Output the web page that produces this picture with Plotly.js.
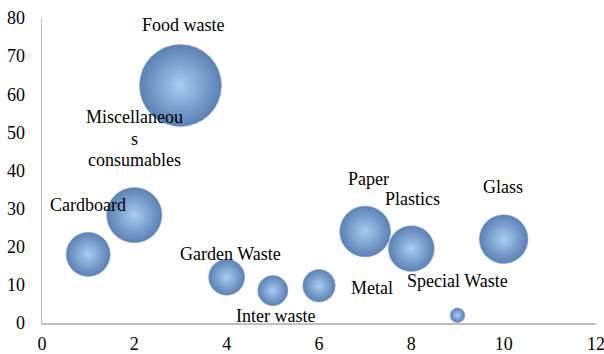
<!DOCTYPE html>
<html>
<head>
<meta charset="utf-8">
<script src="https://cdn.plot.ly/plotly-3.0.1.min.js"></script>
<style>html,body{margin:0;padding:0;background:#fff;}#chart{width:604px;height:354px;}</style>
</head>
<body>
<div id="chart"></div>
<script>
const categories = ["Cardboard", "Miscellaneous consumables", "Food waste", "Garden Waste", "Inter waste", "Metal", "Paper", "Plastics", "Special Waste", "Glass"];
const xValues = [1, 2, 3, 4, 5, 6, 7, 8, 9, 10];
const yValues = [18, 28.3, 62.3, 12, 8.5, 9.8, 24, 19.5, 2, 22];
const bubbleSizes = [18, 28.3, 62.3, 12, 8.5, 9.8, 24, 19.5, 2, 22];
const labelLines = [["Cardboard"], ["Miscellaneou", "s", "consumables"], ["Food waste"], ["Garden Waste"], ["Inter waste"], ["Metal"], ["Paper"], ["Plastics"], ["Special Waste"], ["Glass"]];
const xTicks = [0, 2, 4, 6, 8, 10, 12];
const yTicks = [0, 10, 20, 30, 40, 50, 60, 70, 80];

// label offsets in pixels (style): first line position relative to point
const labelShift = [[0, 49], [0, 98], [3, 60], [4, 23], [3, -25], [53, -2], [3, 53], [1, 50], [0, 34], [-1, 52]];
const lineGap = 21.5;

const font = {family: "Liberation Serif", size: 18, color: "#000"};

const trace = {
  type: "scatter",
  mode: "markers",
  x: xValues,
  y: yValues,
  text: categories,
  hoverinfo: "text",
  marker: {
    size: bubbleSizes,
    sizemode: "area",
    sizeref: 62.3 / (2 * 41 * 41),
    color: "#5b80b3",
    gradient: {type: "radial", color: "#a8ccf2"},
    line: {width: 0.6, color: "#8aaad4"},
    opacity: 1
  },
  showlegend: false
};

const annotations = [];
categories.forEach((c, i) => {
  labelLines[i].forEach((ln, j) => {
    annotations.push({
      x: xValues[i], y: yValues[i], xref: "x", yref: "y",
      text: ln, showarrow: false,
      xshift: labelShift[i][0], yshift: labelShift[i][1] - j * lineGap,
      font: font, align: "center"
    });
  });
});

const layout = {
  width: 604, height: 354,
  margin: {l: 42, r: 8, t: 18, b: 31},
  paper_bgcolor: "#fff", plot_bgcolor: "#fff",
  xaxis: {
    range: [0, 12], tickvals: xTicks, ticktext: xTicks.map(String),
    showgrid: false, zeroline: false, showline: true, linecolor: "#bfbfbf", linewidth: 1.5,
    ticks: "", tickfont: font, ticklabelstandoff: 4, ticklabeloverflow: "allow"
  },
  yaxis: {
    range: [0, 80], tickvals: yTicks, ticktext: yTicks.map(String),
    showgrid: false, zeroline: false, showline: true, linecolor: "#bfbfbf", linewidth: 1.5,
    ticks: "", tickfont: font, ticklabelstandoff: 12, ticklabeloverflow: "allow"
  },
  annotations: annotations,
  showlegend: false
};

Plotly.newPlot("chart", [trace], layout, {displayModeBar: false, staticPlot: true});
</script>
</body>
</html>
